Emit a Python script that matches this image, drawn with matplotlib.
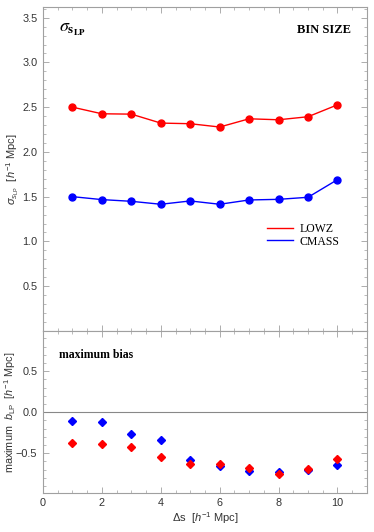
import matplotlib.pyplot as plt
from matplotlib.ticker import MultipleLocator, FixedLocator
from matplotlib.lines import Line2D

plt.rcParams['font.family'] = ['Liberation Sans', 'DejaVu Sans']
plt.rcParams['mathtext.fontset'] = 'custom'
plt.rcParams['mathtext.rm'] = 'Liberation Sans'
plt.rcParams['mathtext.it'] = 'Liberation Sans:italic'
plt.rcParams['mathtext.bf'] = 'Liberation Sans:bold'

# Dane
ds = [1, 2, 3, 4, 5, 6, 7, 8, 9, 10]
sigma_lowz = [2.50, 2.426, 2.422, 2.322, 2.315, 2.278, 2.37, 2.359, 2.393, 2.526]
sigma_cmass = [1.50, 1.467, 1.448, 1.415, 1.452, 1.415, 1.463, 1.47, 1.493, 1.69]
bias_lowz = [-0.37, -0.382, -0.419, -0.54, -0.634, -0.63, -0.675, -0.752, -0.691, -0.573]
bias_cmass = [-0.11, -0.118, -0.26, -0.341, -0.577, -0.65, -0.711, -0.732, -0.707, -0.642]

red = '#ff0000'
blue = '#0000ff'
frame = '#a0a0a0'
textc = '#333333'

fig = plt.figure(figsize=(3.74, 5.32), dpi=100)
ax1 = fig.add_axes([0.115, 0.378, 0.866, 0.609])
ax2 = fig.add_axes([0.115, 0.0733, 0.866, 0.3047])

def styleAxes(ax):
    for s in ax.spines.values():
        s.set_color(frame)
        s.set_linewidth(0.8)
    ax.tick_params(which='both', direction='in', color=frame, labelcolor=textc,
                   labelsize=7.8, top=True, right=True)
    ax.tick_params(which='major', length=4, width=0.6)
    ax.tick_params(which='minor', length=2, width=0.5)
    ax.tick_params(axis='y', which='major', pad=4)
    ax.xaxis.set_major_locator(MultipleLocator(2))
    ax.xaxis.set_minor_locator(MultipleLocator(0.5))
    ax.yaxis.set_minor_locator(MultipleLocator(0.1))
    ax.set_xlim(0, 11)

# Panel górny
styleAxes(ax1)
ax1.plot(ds, sigma_lowz, '-o', color=red, markersize=5, linewidth=1.0)
ax1.plot(ds, sigma_cmass, '-o', color=blue, markersize=5, linewidth=1.0)
ax1.set_ylim(0, 3.62)
ax1.yaxis.set_major_locator(FixedLocator([0.5, 1.0, 1.5, 2.0, 2.5, 3.0, 3.5]))
ax1.tick_params(labelbottom=False)
ax1.set_ylabel(r'$\sigma_{s_{\rm LP}}$  [$h^{-1}$ Mpc]', fontsize=8, color=textc)
ax1.yaxis.set_label_coords(-0.068, 0.5)
ax1.text(0.05, 0.93, r'$\sigma_{\mathbf{s_{LP}}}$', transform=ax1.transAxes, fontsize=13,
         math_fontfamily='stix', ha='left', va='center', color='black')
ax1.text(0.95, 0.93, 'BIN SIZE', transform=ax1.transAxes, fontsize=9, fontweight='bold',
         family='Liberation Serif', ha='right', va='center', color='black')

handles = [Line2D([0], [0], color=red, lw=1.0), Line2D([0], [0], color=blue, lw=1.0)]
ax1.legend(handles, ['LOWZ', 'CMASS'], loc='center left', bbox_to_anchor=(0.66, 0.295),
           frameon=False, prop={'family': 'Liberation Serif', 'size': 8.5},
           handlelength=2.2, handletextpad=0.5, labelspacing=0.05)

# Panel dolny
styleAxes(ax2)
ax2.axhline(0, color='#888888', linewidth=0.8)
ax2.plot(ds, bias_cmass, 'D', color=blue, markersize=4.5, linestyle='none')
ax2.plot(ds, bias_lowz, 'D', color=red, markersize=4.5, linestyle='none')
ax2.set_ylim(-0.984, 0.99)
ax2.yaxis.set_major_locator(FixedLocator([-0.5, 0.0, 0.5]))
ax2.set_ylabel(r'maximum  $b_{\rm LP}$  [$h^{-1}$ Mpc]', fontsize=7.8, color=textc)
ax2.yaxis.set_label_coords(-0.078, 0.5)
ax2.set_xlabel(r'$\Delta$s  [$h^{-1}$ Mpc]', fontsize=8, color=textc, labelpad=2)
ax2.text(0.05, 0.85, 'maximum bias', transform=ax2.transAxes, fontsize=8.5, fontweight='bold',
         family='Liberation Serif', ha='left', va='center', color='black')

plt.savefig('out.png', dpi=100)
